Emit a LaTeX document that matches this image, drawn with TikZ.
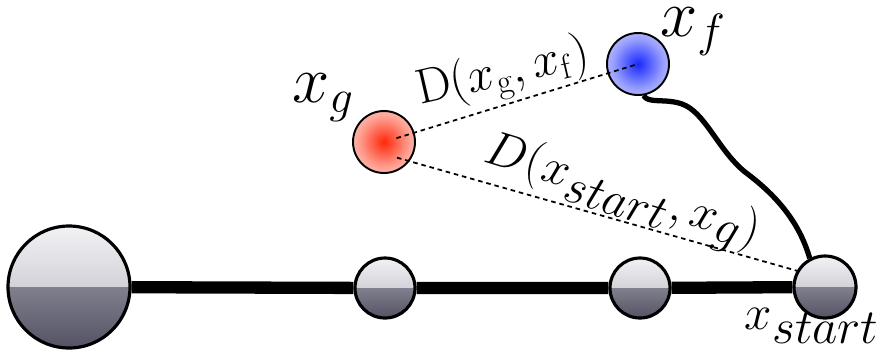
\RequirePackage{fix-cm}
\documentclass[tikz,border=0pt]{standalone}
\usetikzlibrary{decorations.pathmorphing}

\definecolor{topgray}{RGB}{242,242,245}
\definecolor{midgray}{RGB}{178,178,188}
\definecolor{lowgray}{RGB}{128,128,142}
\definecolor{botgray}{RGB}{84,82,100}
\definecolor{goalred}{RGB}{255,40,10}
\definecolor{goalblue}{RGB}{25,40,255}
\colorlet{redA}{goalred!78!white}
\colorlet{redB}{goalred!45!white}
\colorlet{redC}{goalred!18!white}
\colorlet{redD}{goalred!7!white}
\colorlet{blueA}{goalblue!78!white}
\colorlet{blueB}{goalblue!45!white}
\colorlet{blueC}{goalblue!18!white}
\colorlet{blueD}{goalblue!7!white}
\pgfdeclareradialshading{redglow}{\pgfpoint{0bp}{0bp}}{color(0bp)=(goalred); color(8bp)=(redA);
  color(20bp)=(redB); color(35bp)=(redC); color(50bp)=(redD)}
\pgfdeclareradialshading{blueglow}{\pgfpoint{0bp}{0bp}}{color(0bp)=(goalblue); color(8bp)=(blueA);
  color(20bp)=(blueB); color(35bp)=(blueC); color(50bp)=(blueD)}

\begin{document}
\begin{tikzpicture}[x=0.2mm, y=-0.2mm,
    sphere/.style={circle, draw, line width=1.8pt, inner sep=0pt, minimum size=#1*0.2mm,
      path picture={
        \fill[top color=topgray, bottom color=midgray]
          (path picture bounding box.north west) rectangle (path picture bounding box.east);
        \fill[top color=lowgray, bottom color=botgray]
          (path picture bounding box.west) rectangle (path picture bounding box.south east);
      }},
    goal/.style={circle, draw, line width=1.1pt, inner sep=0pt, minimum size=62*0.2mm,
      shading=#1},
    rail/.style={line width=7pt},
    dist/.style={dash pattern=on 2.6pt off 2.2pt, line width=1pt},
    wire/.style={line width=3pt,
      postaction={draw, line width=0.7pt, decorate,
        decoration={random steps, segment length=1.5pt, amplitude=1pt}}},
    big/.style={font=\fontsize{38}{42}\selectfont},
    mid/.style={font=\fontsize{28}{32}\selectfont}]

    \useasboundingbox (0,0) rectangle (883,352);

    % line of visited states
    \node[sphere=122] (root) at (69,287) {};
    \node[sphere=60] (s1) at (385,288) {};
    \node[sphere=60] (s2) at (640,288) {};
    \node[sphere=62] (start) at (825,287) {};
    \draw[rail] (root) -- (s1) -- (s2) -- (start);

    % candidate states
    \node[goal=redglow] (xg) at (384,142) {};
    \node[goal=blueglow] (xf) at (638,64) {};

    \draw[dist, shorten <=2.6mm] (xg.center) -- (xf.center);
    \draw[dist, shorten <=2.7mm] ([yshift=-2.4mm]xg.center) -- (start.150);
    \draw[wire] (xf.-80) .. controls (648,104) and (665,98) .. (682,104)
      .. controls (705,112) and (718,150) .. (745,172)
      .. controls (780,198) and (800,225) .. (start.118);

    % labels
    \node[big] (lg) at (323,98) {$x_g$};
    \node[big] (lf) at (693,32) {$x_f$};
    \node[mid] (ls) at (812,326) {$x_{\textstyle start}$};
    \node[mid, rotate=13] (dgf) at (503,74) {$\mathrm{D}(x_\mathrm{g},x_\mathrm{f})$};
    \node[mid, rotate=-17] (dsg) at (622,194) {$D(x_{\textstyle start},x_{\textstyle g})$};
\end{tikzpicture}
\end{document}
